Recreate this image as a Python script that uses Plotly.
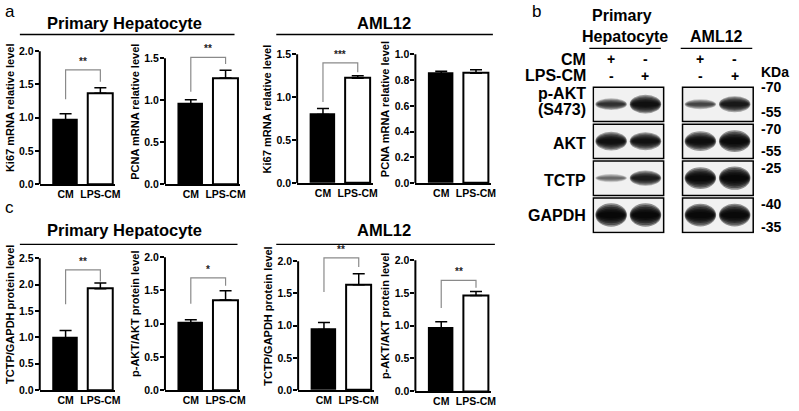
import plotly.graph_objects as go

groups = ["CM", "LPS-CM"]

# panel a: mRNA
ki67_ph = [0.96, 1.37]
ki67_ph_err = [0.10, 0.08]
pcna_ph = [0.955, 1.265]
pcna_ph_err = [0.05, 0.09]
ki67_aml = [0.80, 1.22]
ki67_aml_err = [0.07, 0.03]
pcna_aml = [0.85, 0.852]
pcna_aml_err = [0.017, 0.028]

# panel c: protein
tctp_ph = [0.99, 1.92]
tctp_ph_err = [0.14, 0.11]
pakt_ph = [1.00, 1.356]
pakt_ph_err = [0.06, 0.14]
tctp_aml = [0.94, 1.635]
tctp_aml_err = [0.11, 0.17]
pakt_aml = [0.95, 1.46]
pakt_aml_err = [0.11, 0.06]

# significance brackets: [left foot, top, right foot]
br_ki67_ph = [1.28, 1.72, 1.54]
br_pcna_ph = [1.10, 1.51, 1.43]
br_ki67_aml = [0.945, 1.40, 1.29]
br_tctp_ph = [1.63, 2.28, 2.06]
br_pakt_ph = [1.30, 1.69, 1.57]
br_tctp_aml = [1.52, 2.05, 1.91]
br_pakt_aml = [1.27, 1.69, 1.58]

# panel b: western blot band intensity (PH CM, PH LPS-CM, AML CM, AML LPS-CM)
blot_rows = ["p-AKT", "AKT", "TCTP", "GAPDH"]
band_pakt = [0.55, 0.85, 0.45, 0.75]
band_akt = [0.85, 0.82, 0.88, 0.95]
band_tctp = [0.30, 0.72, 0.95, 1.00]
band_gapdh = [1.00, 1.00, 0.98, 0.98]
cm_signs = ["+", "-", "+", "-"]
lps_signs = ["-", "+", "-", "+"]
kda_marks = ["-70", "-55", "-70", "-55", "-25", "-40", "-35"]

W, H = 799, 411
FONT = "Liberation Sans, Arial, sans-serif"
HEAD = 1.15  # headroom above the top tick so brackets are not clipped


def px(x):
    return x / W


def py(y):
    return 1 - y / H


fig = go.Figure()
layout = {}
annotations = []
shapes = []

# (values, errors, ylabel, ymax, dtick, bracket, stars, axis x px, top px, zero px)
panels = [
    (ki67_ph, ki67_ph_err, "Ki67 mRNA relative level", 2.0, 0.5, br_ki67_ph, "**", 40, 52, 187),
    (pcna_ph, pcna_ph_err, "PCNA mRNA relative level", 1.5, 0.5, br_pcna_ph, "**", 166, 59, 187),
    (ki67_aml, ki67_aml_err, "Ki67 mRNA relative level", 1.5, 0.5, br_ki67_aml, "***", 299, 55, 186),
    (pcna_aml, pcna_aml_err, "PCNA mRNA relative level", 1.0, 0.2, None, "", 418, 55, 186),
    (tctp_ph, tctp_ph_err, "TCTP/GAPDH protein level", 2.5, 0.5, br_tctp_ph, "**", 40, 262, 396),
    (pakt_ph, pakt_ph_err, "p-AKT/AKT protein level", 2.0, 0.5, br_pakt_ph, "*", 166, 261, 396),
    (tctp_aml, tctp_aml_err, "TCTP/GAPDH protein level", 2.0, 0.5, br_tctp_aml, "**", 300, 265, 396),
    (pakt_aml, pakt_aml_err, "p-AKT/AKT protein level", 2.0, 0.5, br_pakt_aml, "**", 418, 264, 397),
]

tickfont = dict(size=10.5, family=FONT, weight="bold", color="black")
titlefont = dict(size=11, family=FONT, weight="bold", color="black")

for i, (vals, errs, ylab, ymax, dt, br, stars, ax, top, zero) in enumerate(panels):
    n = "" if i == 0 else str(i + 1)
    xr, yr = "x" + n, "y" + n
    fig.add_trace(go.Bar(
        x=[0, 1], y=vals, width=0.7, xaxis=xr, yaxis=yr,
        marker=dict(color=["black", "white"], line=dict(color="black", width=[1.5, 2])),
        error_y=dict(type="data", symmetric=False, array=errs, arrayminus=[0, 0],
                     color="black", thickness=1.5, width=6),
        showlegend=False, hoverinfo="skip"))
    if br:
        fig.add_trace(go.Scatter(
            x=[0, 0, 1, 1], y=[br[0], br[1], br[1], br[2]], mode="lines",
            xaxis=xr, yaxis=yr,
            line=dict(color="#8a8a8a", width=1.2), showlegend=False, hoverinfo="skip"))
        annotations.append(dict(x=0.5, y=br[1], xref=xr, yref=yr, text=stars, showarrow=False,
                                yanchor="bottom", yshift=1,
                                font=dict(size=10, color="#222", family=FONT, weight="bold")))
    ntick = int(round(ymax / dt))
    layout["xaxis" + n] = dict(
        domain=[px(ax), px(ax + 76)], range=[-0.743, 1.429], anchor=yr,
        showline=True, linecolor="black", linewidth=2, ticks="", showgrid=False, zeroline=False,
        tickvals=[0, 1], ticktext=groups, ticklabelstandoff=-1, tickfont=tickfont)
    layout["yaxis" + n] = dict(
        domain=[py(zero), py(zero - (zero - top) * HEAD)], range=[0, ymax * HEAD], anchor=xr,
        tickvals=[round(k * dt, 2) for k in range(ntick + 1)], tickformat=".1f",
        showline=False, ticks="outside", ticklen=4, tickwidth=2, ticklabelstandoff=-1,
        tickcolor="black", showgrid=False, zeroline=False, tickfont=tickfont,
        title=dict(text=ylab, standoff=2, font=titlefont))
    # visible y axis line stops at the top tick
    shapes.append(dict(type="line", xref=xr + " domain", yref=yr, x0=0, x1=0, y0=0, y1=ymax,
                       line=dict(color="black", width=2)))

# panel labels and group titles
for t, x, y in [("a", 3, 12), ("b", 533, 12), ("c", 3, 211)]:
    annotations.append(dict(x=px(x), y=py(y), xref="paper", yref="paper", text=t, showarrow=False,
                            xanchor="left", yanchor="middle", font=dict(size=17, family=FONT, color="black")))
for t, x, y in [("Primary Hepatocyte", 125, 23), ("AML12", 386, 23),
                ("Primary Hepatocyte", 125, 233), ("AML12", 386, 233)]:
    annotations.append(dict(x=px(x), y=py(y), xref="paper", yref="paper", text=t, showarrow=False,
                            xanchor="center", yanchor="middle",
                            font=dict(size=16.5, family=FONT, weight="bold", color="black")))
for x0, x1, y in [(20, 236, 35), (278, 496, 35), (20, 239, 248), (278, 498, 248)]:
    shapes.append(dict(type="line", xref="paper", yref="paper", x0=px(x0), x1=px(x1),
                       y0=py(y), y1=py(y), line=dict(color="black", width=1.3)))

# ---- panel b: blot ----
lane_pos = [0, 1, 2.6, 3.6]
lane_px = [615 + 34.5 * l for l in lane_pos]
layout["xaxis9"] = dict(domain=[px(596), px(759)], range=[-0.55, 4.17], visible=False, anchor="y9")
layout["yaxis9"] = dict(domain=[py(237), py(87)], range=[3.5, -0.5], visible=False, anchor="x9")

layers = [(1.7, 1.0), (1.45, 0.98), (1.2, 0.95), (0.95, 0.92), (0.7, 0.88), (0.45, 0.84)]
for r, bands in enumerate([band_pakt, band_akt, band_tctp, band_gapdh]):
    for bx0, bx1 in [(-0.52, 1.53), (2.08, 4.14)]:
        shapes.append(dict(type="rect", xref="x9", yref="y9", x0=bx0, x1=bx1, y0=r - 0.46, y1=r + 0.47,
                           fillcolor="#f1f1f1", line=dict(color="black", width=1.5), layer="below"))
    for lp, v in zip(lane_pos, bands):
        h = (4 + 10 * v * v) / 37.5
        for hs, ws in layers:
            shapes.append(dict(type="circle", xref="x9", yref="y9",
                               x0=lp - 0.46 * ws, x1=lp + 0.46 * ws,
                               y0=r - h * hs / 2, y1=r + h * hs / 2,
                               fillcolor="black", opacity=0.42 * v, line=dict(width=0)))

bfont = dict(size=16, family=FONT, weight="bold", color="black")
sfont = dict(size=14, family=FONT, weight="bold", color="black")
for t, y in zip(blot_rows + ["(S473)"], [95, 146, 183, 219, 111]):
    annotations.append(dict(x=px(591), y=py(y), xref="paper", yref="paper", text=t, showarrow=False,
                            xanchor="right", yanchor="middle", borderpad=0, font=bfont))
for t, y in [("CM", 60), ("LPS-CM", 77)]:
    annotations.append(dict(x=px(591), y=py(y), xref="paper", yref="paper", text=t, showarrow=False,
                            xanchor="right", yanchor="middle", borderpad=0, font=bfont))
for signs, y in [(cm_signs, 60), (lps_signs, 77)]:
    for s, x in zip(signs, lane_px):
        annotations.append(dict(x=px(x), y=py(y), xref="paper", yref="paper", text=s, showarrow=False,
                                xanchor="center", yanchor="middle", borderpad=0, font=sfont))
for t, x, y in [("Primary", 626, 16), ("Hepatocyte", 629, 37), ("AML12", 721, 37)]:
    annotations.append(dict(x=px(x), y=py(y), xref="paper", yref="paper", text=t,
                            showarrow=False, xanchor="center", yanchor="middle", borderpad=0, font=bfont))
for x0, x1 in [(593, 665), (685, 757)]:
    shapes.append(dict(type="line", xref="paper", yref="paper", x0=px(x0), x1=px(x1),
                       y0=py(49), y1=py(49), line=dict(color="black", width=1.3)))
annotations.append(dict(x=px(765), y=py(73), xref="paper", yref="paper", text="KDa",
                        showarrow=False, xanchor="left", yanchor="middle", borderpad=0, font=sfont))
for t, y in zip(kda_marks, [88, 114, 131, 153, 170, 207, 230]):
    annotations.append(dict(x=px(765), y=py(y), xref="paper", yref="paper", text=t,
                            showarrow=False, xanchor="left", yanchor="middle", borderpad=0, font=sfont))

fig.update_layout(
    width=W, height=H, margin=dict(l=0, r=0, t=0, b=0),
    paper_bgcolor="white", plot_bgcolor="rgba(0,0,0,0)",
    font=dict(family=FONT, color="black"),
    annotations=annotations, shapes=shapes, bargap=0, **layout)

fig.write_html("out.html", config={"displayModeBar": False},
               post_script="document.body.style.margin = '0';")
